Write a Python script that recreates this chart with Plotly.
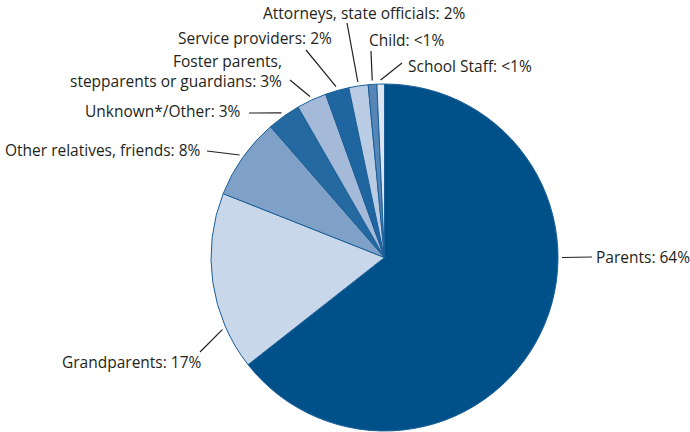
import math
import plotly.graph_objects as go

# Share of cases by relationship of the person involved
categories = [
    "Parents", "Grandparents", "Other relatives, friends", "Unknown*/Other",
    "Foster parents, stepparents or guardians", "Service providers",
    "Attorneys, state officials", "Child", "School Staff",
]
values = [64.4, 16.6, 7.6, 3.1, 2.8, 2.2, 1.8, 0.8, 0.7]
label_texts = [
    "Parents: 64%", "Grandparents: 17%", "Other relatives, friends: 8%",
    "Unknown*/Other: 3%", "Foster parents,<br>stepparents or guardians: 3%",
    "Service providers: 2%", "Attorneys, state officials: 2%",
    "Child: <1%", "School Staff: <1%",
]
colors = ["#00518a", "#c9d7ea", "#7fa1c7", "#24699f", "#a5b9d8",
          "#1f65a0", "#bacce4", "#5686b8", "#dbe4f1"]

W, H = 690, 432
CX, CY, R = 384.5, 257.5, 173.5

# label layout (pixels): text anchor, alignment, outer end of leader line,
# and optional fixed angle for the leader start (else the slice midpoint)
label_layout = [
    dict(tx=594, ty=257, xa="left", ox=592, oy=257, ang=90),
    dict(tx=204, ty=362, xa="right", ox=200, oy=352, ang=246),
    dict(tx=203, ty=150, xa="right", ox=207, oy=151, ang=None),
    dict(tx=243, ty=111, xa="right", ox=249, oy=113, ang=None),
    dict(tx=284, ty=71, xa="right", ox=290, oy=80, ang=None),
    dict(tx=334, ty=38, xa="right", ox=306, oy=50, ang=None),
    dict(tx=364, ty=13, xa="center", ox=347, oy=23, ang=None),
    dict(tx=367, ty=40, xa="left", ox=371, oy=51, ang=None),
    dict(tx=406, ty=66, xa="left", ox=402, oy=63, ang=None),
]

fig = go.Figure(go.Pie(
    labels=categories,
    values=values,
    sort=False,
    direction="clockwise",
    rotation=0,
    textinfo="none",
    hoverinfo="label+percent",
    marker=dict(colors=colors, line=dict(color="#1b5f98", width=1)),
    domain=dict(x=[(CX - R) / W, (CX + R) / W],
                y=[1 - (CY + R) / H, 1 - (CY - R) / H]),
    showlegend=False,
))

total = sum(values)
cum = 0.0
shapes, annotations = [], []
for v, txt, lay in zip(values, label_texts, label_layout):
    mid = (cum + v / 2) / total * 360.0
    cum += v
    ang = lay["ang"] if lay["ang"] is not None else mid
    rad = math.radians(ang)
    ix = CX + (R + 4) * math.sin(rad)
    iy = CY - (R + 4) * math.cos(rad)
    shapes.append(dict(
        type="line", xref="paper", yref="paper",
        x0=ix / W, y0=1 - iy / H, x1=lay["ox"] / W, y1=1 - lay["oy"] / H,
        line=dict(color="#231f20", width=1.2),
    ))
    annotations.append(dict(
        text=txt, xref="paper", yref="paper",
        x=lay["tx"] / W, y=1 - lay["ty"] / H,
        xanchor=lay["xa"], yanchor="middle", align="right",
        showarrow=False,
        font=dict(family="Open Sans", size=15.5, color="#231f20"),
    ))

fig.update_layout(
    width=W, height=H,
    margin=dict(l=0, r=0, t=0, b=0),
    paper_bgcolor="white", plot_bgcolor="white",
    shapes=shapes, annotations=annotations,
)

fig.write_html("out.html")
